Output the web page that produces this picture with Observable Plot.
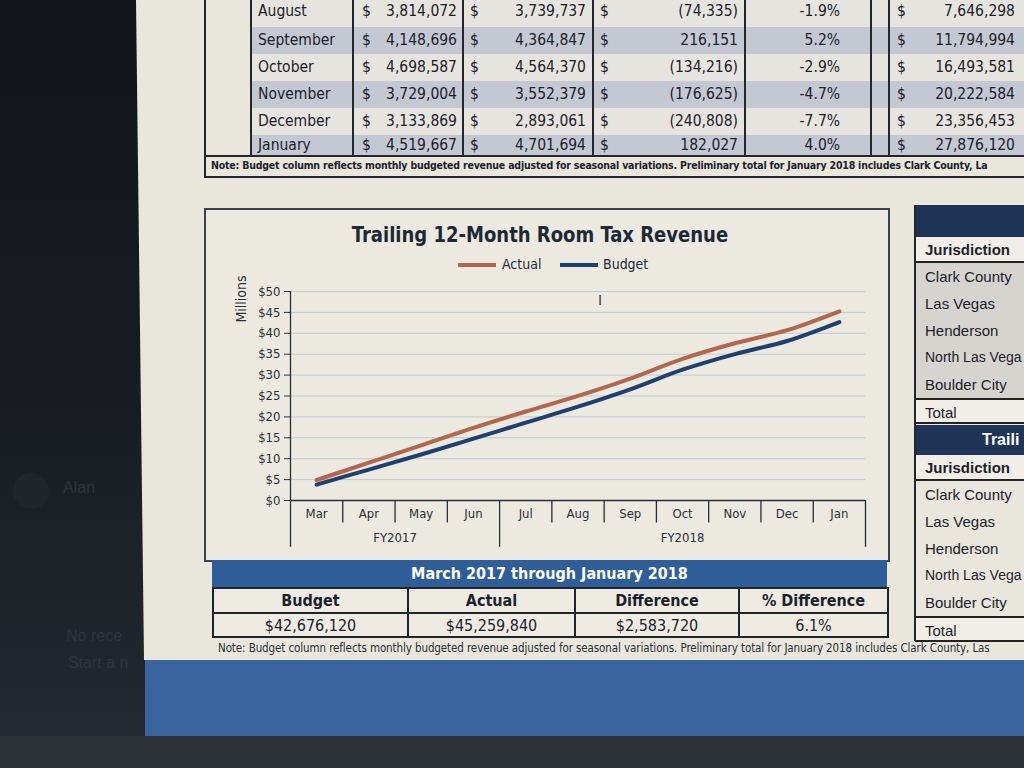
<!DOCTYPE html>
<html><head><meta charset="utf-8">
<script src="https://cdn.jsdelivr.net/npm/d3@7"></script>
<script src="https://cdn.jsdelivr.net/npm/@observablehq/plot@0.6"></script>
<style>
html,body{margin:0;padding:0}
body{width:1024px;height:768px;overflow:hidden;position:relative;background:linear-gradient(180deg,#121519 0%,#191d23 55%,#242a33 100%);
 font-family:"Liberation Sans Narrow","Arial Narrow","DejaVu Sans Condensed",sans-serif;color:#1c222b}
.a{position:absolute;box-sizing:border-box}
.paper{left:136px;top:0;width:888px;height:660px;background:#e9e6dc;clip-path:polygon(0 0,100% 0,100% 100%,8px 100%)}
.band{left:145px;top:660px;width:879px;height:76px;background:#3a649d}
.floor{left:0;top:736px;width:1024px;height:32px;background:#2e3239}
.cell{white-space:nowrap;font-size:15.5px;line-height:1}
.vline{background:#23272d;width:2px}
.hline{background:#23272d;height:2px}
.box{border:2px solid #39434e;left:204px;top:208px;width:686px;height:354px;background:#ece9e0}
.title{left:197px;width:686px;top:222px;text-align:center;font-weight:bold;font-size:22px;color:#1d2935;transform:scaleX(0.91);transform-origin:50% 50%}
.leg{top:256px;font-size:14px;color:#1d2935}
.sw{height:4px;top:263px}
.sumbar{left:212px;top:560px;width:675px;height:27px;background:#2f5d98;color:#fff;font-weight:bold;font-size:16px;text-align:center;line-height:27px}
.st{border:2px solid #1f242a;font-size:16px;text-align:center;background:#eeebe3}
.rt{left:915px;width:120px;font-size:15px;padding-left:10px;font-family:"Liberation Sans",Arial,sans-serif;white-space:nowrap}
.ghost{color:#2f343c;font-family:"Liberation Sans",Arial,sans-serif;font-size:16px}
</style></head><body>
<div class="a paper"></div>
<div class="a band"></div>
<div class="a floor"></div>
<div class="a" style="left:13px;top:473px;width:36px;height:36px;border-radius:50%;background:#20242b"></div>
<div class="a ghost" style="left:63px;top:479px">Alan</div>
<div class="a ghost" style="left:66px;top:627px">No rece</div>
<div class="a ghost" style="left:68px;top:654px">Start a n</div>
<div id="toptable"></div>
<div id="righttable"></div>

<div class="a box"></div>
<div class="a title">Trailing 12-Month Room Tax Revenue</div>
<div id="legend"></div>
<div class="a" id="chart" style="left:210px;top:280px"></div>
<div class="a" style="left:598px;top:292px;font-size:14px;color:#444;font-family:'DejaVu Sans'">I</div>
<div id="summary"></div>
<div class="a" style="left:218px;top:641px;font-size:11.5px;color:#2a3038;white-space:nowrap;letter-spacing:-0.1px">Note: Budget column reflects monthly budgeted revenue adjusted for seasonal variations. Preliminary total for January 2018 includes Clark County, Las</div>

<script>
// ---------- data ----------
const months = ["Mar","Apr","May","Jun","Jul","Aug","Sep","Oct","Nov","Dec","Jan"];
const fiscalYear = ["FY2017","FY2017","FY2017","FY2017","FY2018","FY2018","FY2018","FY2018","FY2018","FY2018","FY2018"];
// trailing cumulative revenue, $ millions
const actual = [4.9, 9.05, 13.2, 17.38, 21.29, 25.03, 29.18, 33.88, 37.61, 40.74, 45.26];
const budget = [3.8, 7.4, 11.0, 14.8, 18.63, 22.44, 26.59, 31.29, 35.02, 38.16, 42.68];
const yTicks = [0, 5, 10, 15, 20, 25, 30, 35, 40, 45, 50];
const seriesNames = ["Actual", "Budget"];
const seriesColors = ["#b2664f", "#203f6e"];

const summaryHeads = ["Budget", "Actual", "Difference", "% Difference"];
const summaryVals = ["$42,676,120", "$45,259,840", "$2,583,720", "6.1%"];

const tblMonths = ["August","September","October","November","December","January"];
const tblBudget = ["3,814,072","4,148,696","4,698,587","3,729,004","3,133,869","4,519,667"];
const tblActual = ["3,739,737","4,364,847","4,564,370","3,552,379","2,893,061","4,701,694"];
const tblDiff = ["(74,335)","216,151","(134,216)","(176,625)","(240,808)","182,027"];
const tblPct = ["-1.9%","5.2%","-2.9%","-4.7%","-7.7%","4.0%"];
const tblCum = ["7,646,298","11,794,994","16,493,581","20,222,584","23,356,453","27,876,120"];
const jurisdictions = ["Clark County","Las Vegas","Henderson","North Las Vega","Boulder City"];

// ---------- helpers ----------
function el(parent, cls, style, text){const d=document.createElement("div");d.className="a "+(cls||"");Object.assign(d.style,style||{});if(text!=null)d.textContent=text;parent.appendChild(d);return d;}

// ---------- top table ----------
const tt=document.getElementById("toptable");
const rowTops=[-4,27,54,81,108,135], rowH=[31,27,27,27,27,21];
tblMonths.forEach((m,i)=>{
  const top=rowTops[i], h=rowH[i], shaded=(i%2===1);
  el(tt,"",{left:"250px",top:top+"px",width:"774px",height:h+"px",background:shaded?"#c3c8d3":"#e6e4de"});
  const cy=top+h/2-8;
  el(tt,"cell",{left:"258px",top:cy+"px"},m);
  el(tt,"cell",{left:"362px",top:cy+"px"},"$");
  el(tt,"cell",{left:"360px",width:"97px",top:cy+"px",textAlign:"right"},tblBudget[i]);
  el(tt,"cell",{left:"470px",top:cy+"px"},"$");
  el(tt,"cell",{left:"480px",width:"106px",top:cy+"px",textAlign:"right"},tblActual[i]);
  el(tt,"cell",{left:"600px",top:cy+"px"},"$");
  el(tt,"cell",{left:"620px",width:"118px",top:cy+"px",textAlign:"right"},tblDiff[i]);
  el(tt,"cell",{left:"760px",width:"80px",top:cy+"px",textAlign:"right"},tblPct[i]);
  el(tt,"cell",{left:"897px",top:cy+"px"},"$");
  el(tt,"cell",{left:"910px",width:"105px",top:cy+"px",textAlign:"right"},tblCum[i]);
});
[250,352,462,592,744,870,888].forEach(x=>el(tt,"vline",{left:x+"px",top:"0px",height:"156px"}));
el(tt,"vline",{left:"204px",top:"0px",height:"178px"});
el(tt,"hline",{left:"204px",top:"155px",width:"820px"});
el(tt,"hline",{left:"204px",top:"176px",width:"820px"});
el(tt,"",{left:"211px",top:"159px",fontSize:"10.5px",fontWeight:"bold",whiteSpace:"nowrap",color:"#1c222b",letterSpacing:"-0.2px"},
  "Note: Budget column reflects monthly budgeted revenue adjusted for seasonal variations. Preliminary total for January 2018 includes Clark County, La");

// ---------- right table ----------
const rt=document.getElementById("righttable");
el(rt,"",{left:"915px",top:"205px",width:"110px",height:"32px",background:"#1f3456"});
function group(top,shade){
  el(rt,"rt",{top:top+"px",height:"26px",lineHeight:"26px",fontWeight:"bold",background:"#f1eee8",borderBottom:"2px solid #222"},"Jurisdiction");
  jurisdictions.forEach((j,k)=>el(rt,"rt",{top:(top+26+k*27)+"px",height:"27px",lineHeight:"27px",background:shade,fontSize:(j.length>12?"14px":"15px")},j));
  el(rt,"rt",{top:(top+26+5*27)+"px",height:"26px",lineHeight:"26px",background:"#f1eee8",borderTop:"2px solid #222",borderBottom:"2px solid #222"},"Total");
}
group(237,"#d6d4ce");
el(rt,"",{left:"915px",top:"425px",width:"110px",height:"30px",background:"#1f3456",color:"#fff",fontWeight:"bold",fontSize:"16px",lineHeight:"30px",paddingLeft:"67px",fontFamily:"'Liberation Sans',Arial,sans-serif",whiteSpace:"nowrap"},"Traili");
group(455,"#e9e6dd");
el(rt,"vline",{left:"914px",top:"205px",height:"436px"});

// ---------- legend ----------
const lg=document.getElementById("legend");
const legX=[[458,502],[560,603]];
seriesNames.forEach((s,i)=>{
  el(lg,"sw",{left:legX[i][0]+"px",width:"38px",background:seriesColors[i]});
  el(lg,"leg",{left:legX[i][1]+"px"},s);
});

// ---------- summary table ----------
const sm=document.getElementById("summary");
el(sm,"sumbar",{},"March 2017 through January 2018");
const colX=[212,407,574,738,887];
summaryHeads.forEach((h,i)=>{
  el(sm,"st",{left:colX[i]+"px",top:"587px",width:(colX[i+1]-colX[i]+2)+"px",height:"27px",lineHeight:"24px",fontWeight:"bold"},h);
  el(sm,"st",{left:colX[i]+"px",top:"612px",width:(colX[i+1]-colX[i]+2)+"px",height:"26px",lineHeight:"23px"},summaryVals[i]);
});

// ---------- chart ----------
const rows=[];
months.forEach((m,i)=>{rows.push({i,series:"Actual",v:actual[i]});rows.push({i,series:"Budget",v:budget[i]});});
const edges=d3.range(months.length+1).map(i=>i-0.5);
const isGroupEdge=e=>e<0||e>months.length-1||fiscalYear[Math.floor(e)]!==fiscalYear[Math.ceil(e)];
const fyGroups=Array.from(d3.group(months.map((m,i)=>({i,fy:fiscalYear[i]})),d=>d.fy),([fy,v])=>({fy,x:d3.mean(v,d=>d.i)}));
const font="'Liberation Sans Narrow','Arial Narrow','DejaVu Sans Condensed',sans-serif";

const chart=Plot.plot({
  width:670,height:275,
  marginLeft:80,marginRight:15,marginTop:11,marginBottom:55,
  x:{type:"linear",domain:[-0.5,months.length-0.5],axis:null},
  y:{domain:[0,50],axis:null},
  color:{domain:seriesNames,range:seriesColors},
  style:{background:"transparent",fontFamily:font,fontSize:"13px",color:"#2a3038",overflow:"visible"},
  marks:[
    Plot.gridY(yTicks,{stroke:"#9fb3c8",strokeOpacity:0.55,strokeWidth:1}),
    Plot.axisY({ticks:yTicks,tickFormat:d=>`$${d}`,tickSize:6,tickPadding:4,label:null,fontSize:13,stroke:"#333"}),
    Plot.ruleX([-0.5],{y1:0,y2:50,stroke:"#2a2f36",strokeWidth:1.3}),
    Plot.ruleY([0],{stroke:"#2a2f36",strokeWidth:1.3}),
    Plot.ruleX(edges,{x:d=>d,y1:0,y2:d=>isGroupEdge(d)?-11.2:-5.4,stroke:"#2a2f36",strokeWidth:1.3}),
    Plot.text(months,{x:(d,i)=>i,y:0,dy:13,text:d=>d,fontSize:13,fill:"#2a3038"}),
    Plot.text(fyGroups,{x:"x",y:0,dy:37,text:"fy",fontSize:13,fill:"#2a3038"}),
    Plot.line(rows,{x:"i",y:"v",z:"series",stroke:"series",strokeWidth:4,curve:"catmull-rom",strokeLinecap:"round"}),
    Plot.text(["Millions"],{frameAnchor:"top-left",rotate:-90,dx:-54,dy:31,fontSize:14,fill:"#2a3038"})
  ]
});
document.getElementById("chart").appendChild(chart);
</script>
</body></html>
